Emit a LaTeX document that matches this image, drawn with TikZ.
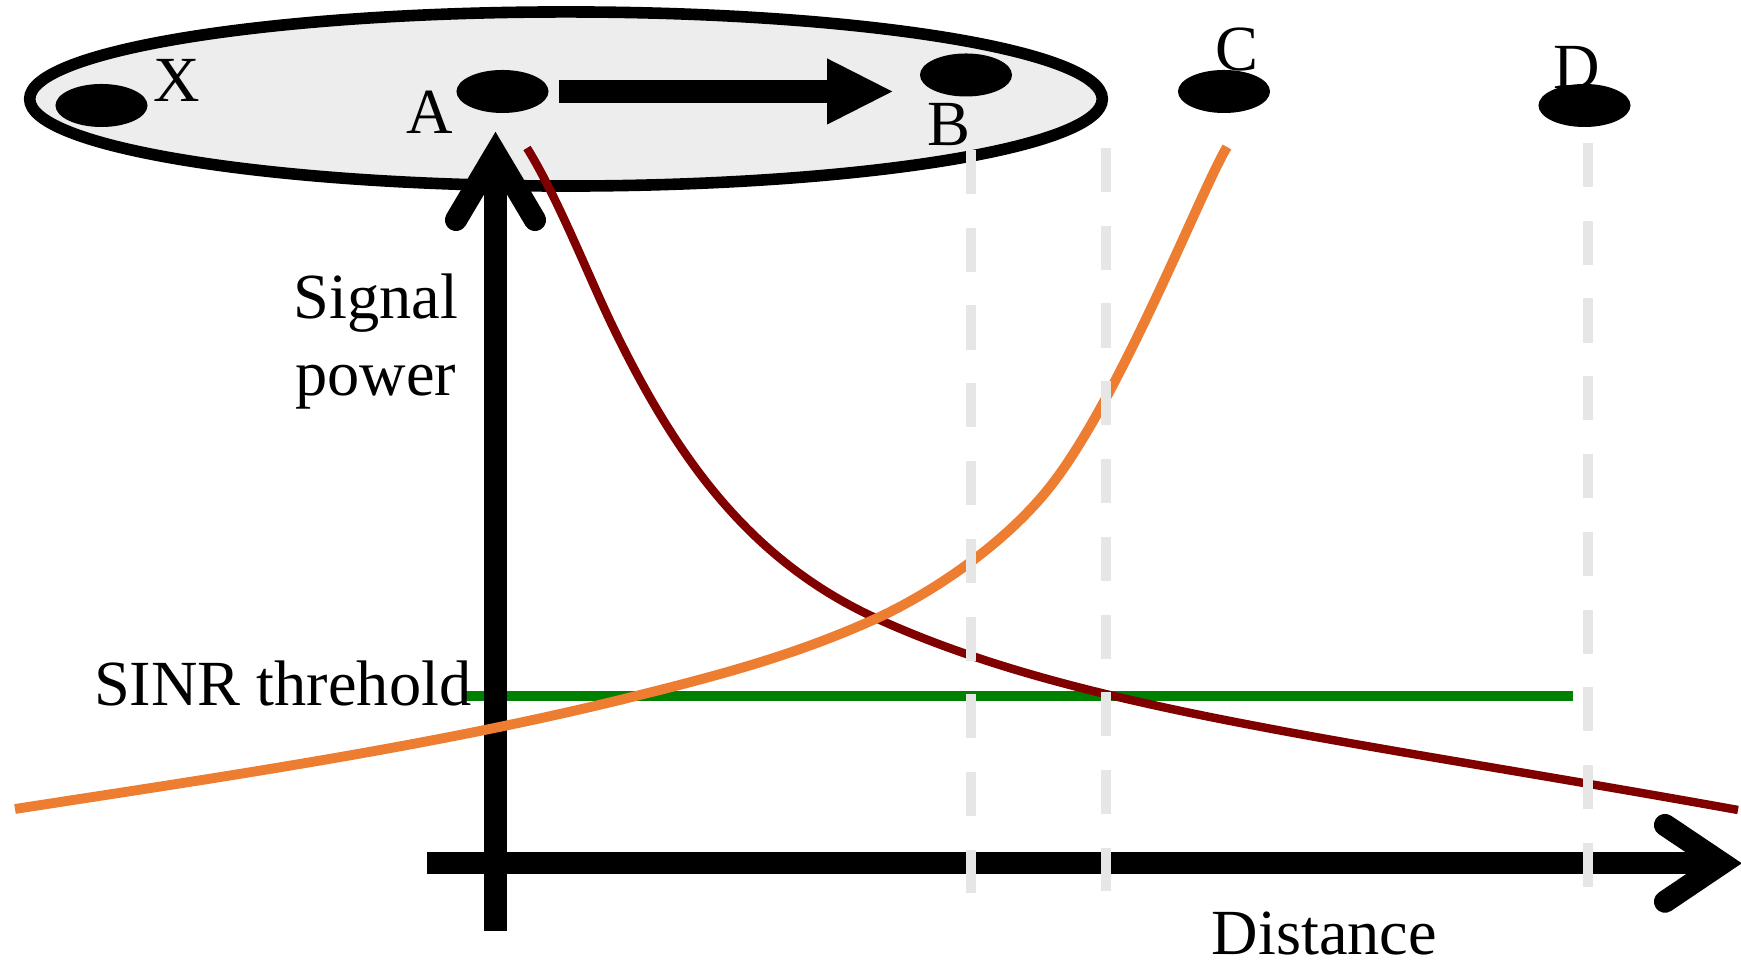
\documentclass[tikz,border=0pt]{standalone}
\usepackage{fontspec}
\setmainfont{Liberation Serif}
\usetikzlibrary{shapes.geometric,positioning,arrows.meta}
\definecolor{cellgray}{RGB}{237,237,237}
\definecolor{servred}{RGB}{128,0,0}
\definecolor{neighorange}{RGB}{237,125,49}
\definecolor{sinrgreen}{RGB}{0,128,0}
\definecolor{guidegray}{RGB}{230,230,230}
\tikzset{
  ue/.style={ellipse,fill=black,minimum width=0.92cm,minimum height=0.43cm,inner sep=0pt},
  lbl/.style={inner sep=0pt},
  axis/.style={line width=6.3pt},
  barb/.style={axis,line cap=round,line join=miter},
  guide/.style={guidegray,line width=3pt,dash pattern=on 12.52pt off 9.59pt},
}

\begin{document}
\begin{tikzpicture}[x=0.01cm,y=-0.01cm,font=\fontsize{18.3}{21.8}\selectfont]
  \useasboundingbox (0,0) rectangle (1741,965);
  % serving cell and users
  \node[draw,ellipse,line width=3.3pt,fill=cellgray,inner sep=0pt,
        minimum width=10.72cm,minimum height=1.74cm] (cell) at (566,99) {};
  \node[ue] (X) at (101.5,105.5) {};
  \node[ue] (A) at (502.5,91.5) {};
  \node[ue] (B) at (966,75) {};
  \node[ue] (C) at (1224,91.5) {};
  \node[ue] (D) at (1584.5,105.5) {};
  \node[lbl,right=0.05cm of X,yshift=0.25cm] (lX) {X};
  \node[lbl,left=0.02cm of A,yshift=-0.205cm] (lA) {A};
  \node[lbl,below=0.05cm of B,xshift=-0.17cm] (lB) {B};
  \node[lbl,above=-0.03cm of C,xshift=0.13cm] (lC) {C};
  \node[lbl,above=-0.06cm of D,xshift=-0.075cm] (lD) {D};
  \draw[line width=6.3pt,shorten <=0.1cm,shorten >=0.27cm,
        -{Triangle[length=0.65cm,width=0.66cm,line width=0pt]}] (A.east) -- (A.east -| B.west);

  % threshold
  \draw[sinrgreen,line width=3.1pt] (461.7,696) -- (1573,696);
  \node[lbl,anchor=base east] (sinr) at (472,705.7) {SINR threhold};

  % axes
  \draw[axis] (495.5,931) -- (495.5,160);
  \draw[barb] (456,220) -- (495.5,153.5) -- (535,220);
  \draw[axis] (427,863.3) -- (1715,863.3);
  \draw[barb] (1665,825) -- (1722,863.3) -- (1665,901.7);
  \node[lbl,anchor=north,align=center] (ylab) at (376,273) {Signal\\power};
  \node[lbl,anchor=base] (xlab) at (1324.5,955) {Distance};

  % signal curves
  \draw[servred,line width=2.4pt] (527,148) .. controls (558,198) and (588.7,277) .. (613,327)
    .. controls (676,457) and (750,562) .. (880,620)
    .. controls (1080,710) and (1338,738) .. (1738,810);
  \draw[neighorange,line width=2.8pt] (15,809) .. controls (215,778) and (436,746) .. (636,696)
    .. controls (716,676) and (793,656) .. (873,620)
    .. controls (933,593) and (1008,542) .. (1053,483)
    .. controls (1123,391.3) and (1202,188) .. (1227,147);

  % guides
  \draw[guide] (971,150) -- (971,893);
  \draw[guide] (1106,148) -- (1106,891);
  \draw[guide] (1588,143) -- (1588,887);
\end{tikzpicture}
\end{document}
